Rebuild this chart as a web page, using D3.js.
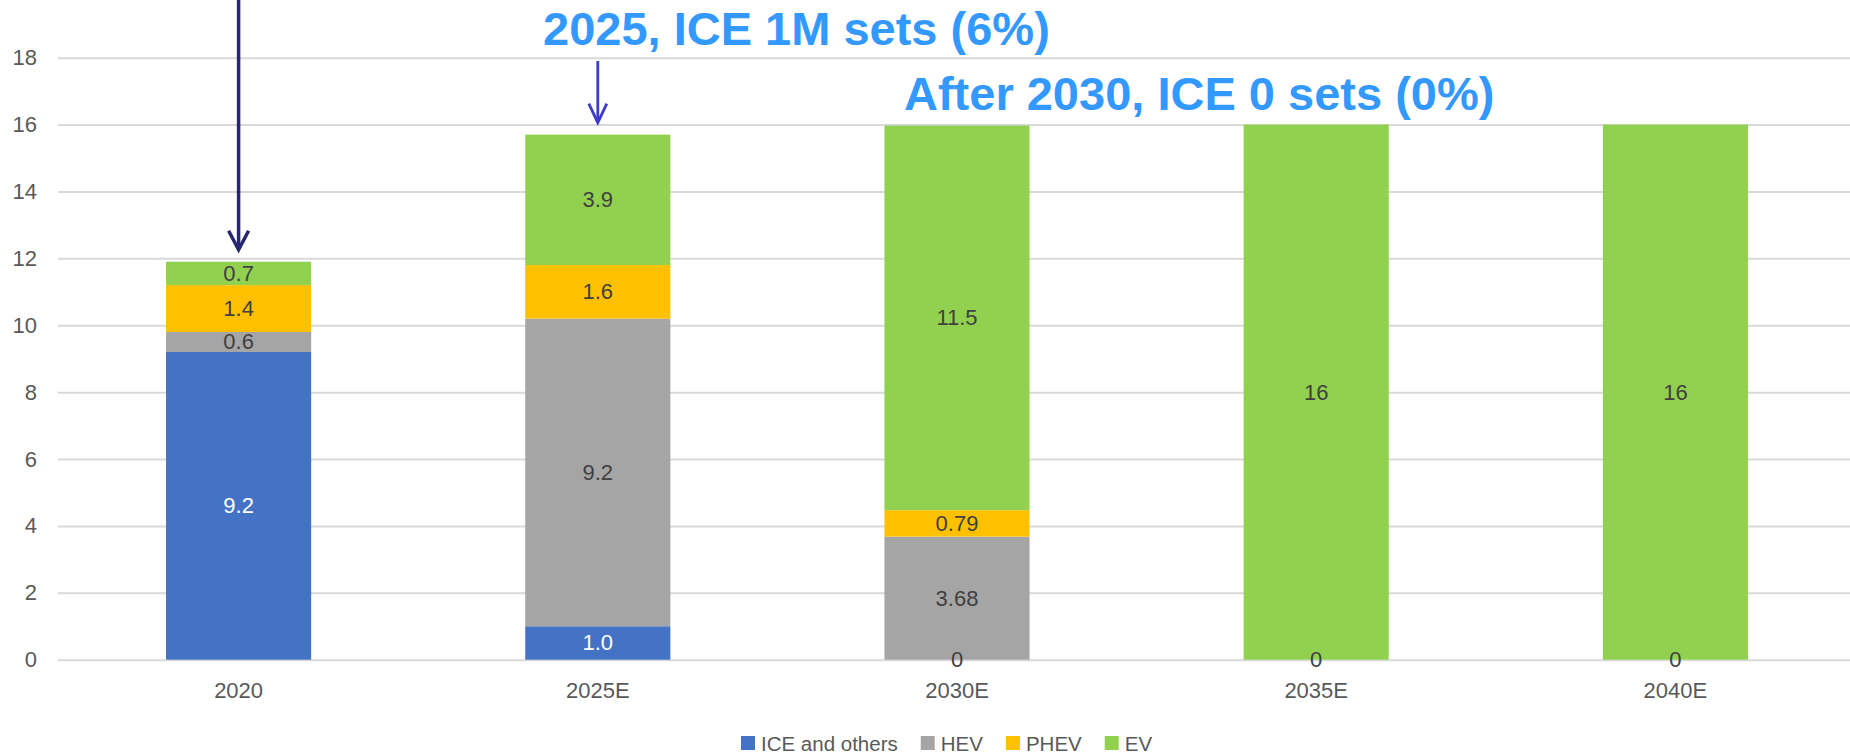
<!DOCTYPE html>
<html>
<head>
<meta charset="utf-8">
<script src="https://cdn.jsdelivr.net/npm/d3@7"></script>
<style>
  html, body { margin: 0; padding: 0; background: #fff; }
  svg { display: block; font-family: "Liberation Sans", Arial, sans-serif; }
</style>
</head>
<body>
<svg id="chart" width="1850" height="755"></svg>
<script>
// categories + series (million sets)
var categories = ["2020", "2025E", "2030E", "2035E", "2040E"]
var seriesNames = ["ICE and others", "HEV", "PHEV", "EV"]
var iceVals  = [9.2, 1.0, 0, 0, 0]
var hevVals  = [0.6, 9.2, 3.68, 0, 0]
var phevVals = [1.4, 1.6, 0.79, 0, 0]
var evVals   = [0.7, 3.9, 11.5, 16, 16]
var iceLabels  = ["9.2", "1.0", "0", "0", "0"]
var hevLabels  = ["0.6", "9.2", "3.68", "", ""]
var phevLabels = ["1.4", "1.6", "0.79", "", ""]
var evLabels   = ["0.7", "3.9", "11.5", "16", "16"]
var yTicks = [0, 2, 4, 6, 8, 10, 12, 14, 16, 18]
var colors = ["#4472C4", "#A5A5A5", "#FFC000", "#92D050"]

var notes = [
    { text: "2025, ICE 1M sets (6%)", x: 543, y: 45 },
    { text: "After 2030, ICE 0 sets (0%)", x: 904, y: 110 }
]

var W = 1850, H = 755
var svg = d3.select("#chart")

var valueCols = [iceVals, hevVals, phevVals, evVals]
var labelCols = [iceLabels, hevLabels, phevLabels, evLabels]

var rows = categories.map((c, i) => {
    var r = { cat: c }
    seriesNames.forEach((s, k) => { r[s] = valueCols[k][i] })
    return r
})

var x = d3.scaleBand().domain(categories).range([59, 1855]).paddingInner(0.596).paddingOuter(0.298)
var y = d3.scaleLinear().domain([0, 18]).range([659.7, 57.7])

// gridlines + y labels
var yAxis = svg.append("g")
    .attr("transform", "translate(58,0)")
    .call(d3.axisLeft(y).tickValues(yTicks).tickSize(-(W - 58)).tickPadding(21).tickFormat(d3.format("d")))
yAxis.select(".domain").remove()
yAxis.selectAll("line").attr("stroke", "#D9D9D9").attr("stroke-width", 2)
yAxis.selectAll("text").attr("fill", "#595959").style("font-size", "22px")

var xAxis = svg.append("g")
    .attr("transform", "translate(0," + y(0) + ")")
    .call(d3.axisBottom(x).tickSize(0).tickPadding(23))
xAxis.select(".domain").remove()
xAxis.selectAll("text").attr("fill", "#595959").style("font-size", "22px")

var stacked = d3.stack().keys(seriesNames)(rows)

var layers = svg.append("g").selectAll("g")
    .data(stacked)
    .enter()
    .append("g")
    .attr("fill", (d, k) => colors[k])

layers.selectAll("rect")
    .data(d => d)
    .enter()
    .append("rect")
    .attr("x", d => x(d.data.cat))
    .attr("width", x.bandwidth())
    .attr("y", d => y(d[1]))
    .attr("height", d => y(d[0]) - y(d[1]))

// data labels
var lbl = svg.append("g")
stacked.forEach((layer, k) => {
    layer.forEach((d, i) => {
        var t = labelCols[k][i]
        if (!t) return
        var v = valueCols[k][i]
        lbl.append("text")
            .attr("x", x(d.data.cat) + x.bandwidth() / 2)
            .attr("y", y((d[0] + d[1]) / 2))
            .attr("text-anchor", "middle")
            .attr("dominant-baseline", "central")
            .attr("fill", k === 0 && v > 0 ? "#FFFFFF" : "#404040")
            .style("font-size", "22px")
            .text(t)
    })
})

// annotations
svg.selectAll(".note")
    .data(notes)
    .enter()
    .append("text")
    .attr("class", "note")
    .attr("x", d => d.x)
    .attr("y", d => d.y)
    .attr("fill", "#3399FF")
    .style("font-size", "47px")
    .style("font-weight", "bold")
    .text(d => d.text)

function arrow(cat, y0, color, w, hw) {
    var cx = x(cat) + x.bandwidth() / 2
    var i = categories.indexOf(cat)
    var tot = iceVals[i] + hevVals[i] + phevVals[i] + evVals[i]
    var tip = y(tot) - 12
    var g = svg.append("g").attr("stroke", color).attr("stroke-width", w).attr("fill", "none")
    g.append("line").attr("x1", cx).attr("x2", cx).attr("y1", y0).attr("y2", tip - 1)
    g.append("polyline")
        .attr("points", [[cx - hw, tip - 19], [cx, tip], [cx + hw, tip - 19]].map(p => p.join(",")).join(" "))
}
arrow("2020", -5, "#262671", 3.5, 10)
arrow("2025E", 61, "#3C3CCC", 2.8, 9)

// legend
var leg = svg.append("g")
var lx = 741
seriesNames.forEach((s, k) => {
    leg.append("rect").attr("x", lx).attr("y", 736).attr("width", 14).attr("height", 14).attr("fill", colors[k])
    var t = leg.append("text")
        .attr("x", lx + 20)
        .attr("y", 743)
        .attr("dominant-baseline", "central")
        .attr("fill", "#595959")
        .style("font-size", "20.5px")
        .text(s)
    lx += 20 + t.node().getComputedTextLength() + 23
})
</script>
</body>
</html>
